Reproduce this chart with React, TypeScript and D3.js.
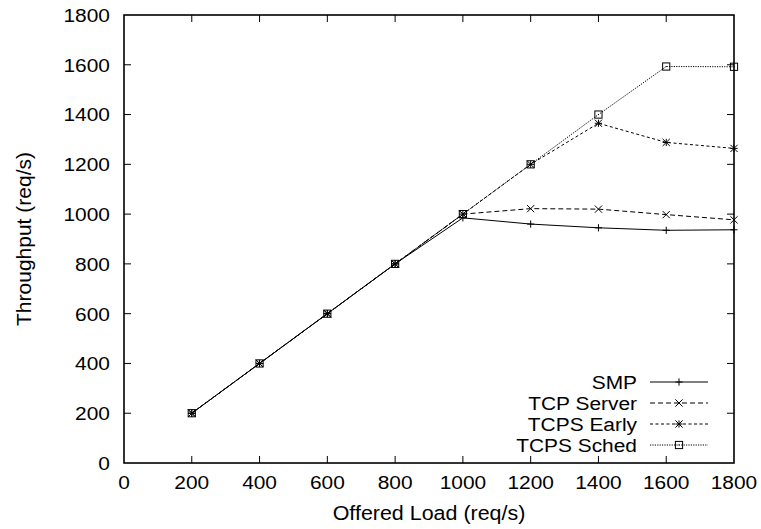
import React from "react";
import * as d3 from "d3";

const loads = [200, 400, 600, 800, 1000, 1200, 1400, 1600, 1800];
const smp = [200, 400, 600, 800, 985, 960, 945, 935, 937];
const tcpServer = [200, 400, 600, 800, 1000, 1022, 1020, 998, 977];
const tcpsEarly = [200, 400, 600, 800, 1000, 1200, 1365, 1288, 1264];
const tcpsSched = [200, 400, 600, 800, 1000, 1200, 1400, 1593, 1592];
const seriesNames = ["SMP", "TCP Server", "TCPS Early", "TCPS Sched"];
const xTicks = [0, 200, 400, 600, 800, 1000, 1200, 1400, 1600, 1800];
const yTicks = [0, 200, 400, 600, 800, 1000, 1200, 1400, 1600, 1800];

const W = 761, H = 529;
const L = 124, R = 734, T = 15, B = 463;
const FONT = "'Liberation Sans', Arial, sans-serif";
const SX = 1.1;

function Txt({
  x,
  y,
  anchor,
  size,
  children,
  dy,
}: {
  x: number;
  y: number;
  anchor: "start" | "middle" | "end";
  size: number;
  children: React.ReactNode;
  dy?: string;
}) {
  return (
    <g transform={`translate(${x},${y}) scale(${SX},1)`}>
      <text x={0} y={0} dy={dy} textAnchor={anchor} fontFamily={FONT} fontSize={size} fill="#000">
        {children}
      </text>
    </g>
  );
}

function Marker({ kind, x, y }: { kind: number; x: number; y: number }) {
  const s = 3.6;
  const st = { stroke: "#000", strokeWidth: 1, fill: "none" };
  const plus = <path d={`M${x - s},${y}H${x + s}M${x},${y - s}V${y + s}`} {...st} />;
  const cross = <path d={`M${x - s},${y - s}L${x + s},${y + s}M${x - s},${y + s}L${x + s},${y - s}`} {...st} />;
  if (kind === 0) return plus;
  if (kind === 1) return cross;
  if (kind === 2) return <g>{plus}{cross}</g>;
  return (
    <g>
      <rect x={x - s} y={y - s} width={2 * s} height={2 * s} {...st} />
      <rect x={x - 0.5} y={y - 0.5} width={1} height={1} fill="#000" />
    </g>
  );
}

export default function App() {
  const x = d3.scaleLinear().domain([0, 1800]).range([L, R]);
  const y = d3.scaleLinear().domain([0, 1800]).range([B, T]);
  const data = [smp, tcpServer, tcpsEarly, tcpsSched];
  const dashes = ["", "5,3", "3,2.5", "1.2,1.2"];
  const line = d3
    .line<number>()
    .x((_, i) => x(loads[i]))
    .y((d) => y(d));
  const tick = 7;
  const legY = [382, 403, 424, 445];
  return (
    <svg width={W} height={H} style={{ position: "absolute", left: 0, top: 0, background: "#fff" }}>
      <rect width={W} height={H} fill="#fff" />
      {yTicks.map((t) => (
        <g key={"y" + t}>
          {t !== 0 && t !== 1800 && (
            <>
              <line x1={L} x2={L + tick} y1={y(t)} y2={y(t)} stroke="#000" />
              <line x1={R} x2={R - tick} y1={y(t)} y2={y(t)} stroke="#000" />
            </>
          )}
          <Txt x={110} y={y(t)} dy="0.36em" anchor="end" size={19}>
            {t}
          </Txt>
        </g>
      ))}
      {xTicks.map((t) => (
        <g key={"x" + t}>
          {t !== 0 && t !== 1800 && (
            <>
              <line x1={x(t)} x2={x(t)} y1={B} y2={B - tick} stroke="#000" />
              <line x1={x(t)} x2={x(t)} y1={T} y2={T + tick} stroke="#000" />
            </>
          )}
          <Txt x={x(t)} y={489} anchor="middle" size={19}>
            {t}
          </Txt>
        </g>
      ))}
      <rect x={L} y={T} width={R - L} height={B - T} fill="none" stroke="#000" strokeWidth={1.6} />
      <Txt x={(L + R) / 2} y={520} anchor="middle" size={19.5}>
        Offered Load (req/s)
      </Txt>
      <text
        transform={`translate(31,${(T + B) / 2}) rotate(-90)`}
        textAnchor="middle"
        fontFamily={FONT}
        fontSize={21}
      >
        Throughput (req/s)
      </text>
      {data.map((d, k) => (
        <g key={"s" + k}>
          <path d={line(d) || ""} fill="none" stroke="#000" strokeWidth={1} strokeDasharray={dashes[k]} />
          {d.map((v, i) => (
            <Marker key={i} kind={k} x={x(loads[i])} y={y(v)} />
          ))}
        </g>
      ))}
      {seriesNames.map((n, k) => (
        <g key={"l" + k}>
          <Txt x={637} y={legY[k]} dy="0.36em" anchor="end" size={19}>
            {n}
          </Txt>
          <line x1={650} x2={708} y1={legY[k]} y2={legY[k]} stroke="#000" strokeDasharray={dashes[k]} />
          <Marker kind={k} x={679} y={legY[k]} />
        </g>
      ))}
    </svg>
  );
}
